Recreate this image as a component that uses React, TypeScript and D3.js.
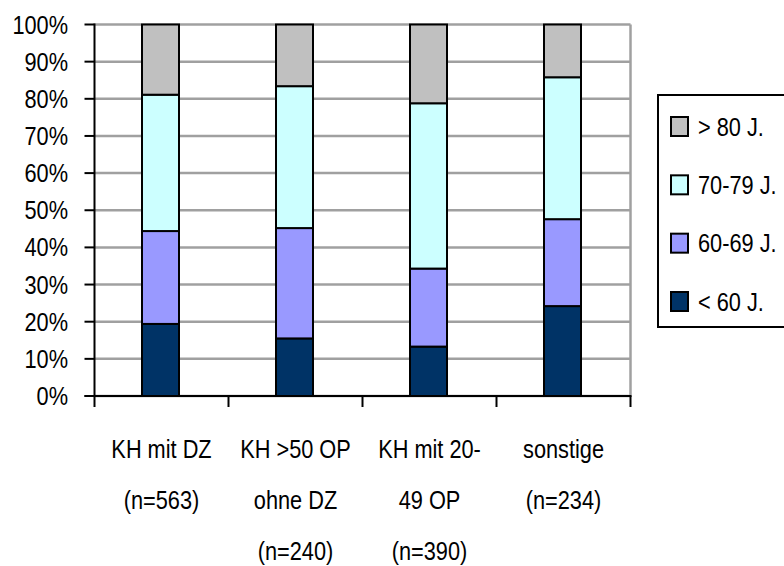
import React from "react";
import * as d3 from "d3";

const categories = ["KH mit DZ", "KH >50 OP", "KH mit 20-", "sonstige"];
const categoryLines = [
  ["KH mit DZ", "(n=563)"],
  ["KH >50 OP", "ohne DZ", "(n=240)"],
  ["KH mit 20-", "49 OP", "(n=390)"],
  ["sonstige", "(n=234)"],
];
const seriesNames = ["< 60 J.", "60-69 J.", "70-79 J.", "> 80 J."];
const under60 = [19.4, 15.5, 13.3, 24.2];
const age6069 = [25.0, 29.7, 21.0, 23.4];
const age7079 = [36.7, 38.2, 44.5, 38.2];
const over80 = [18.9, 16.6, 21.2, 14.2];
const yTicks = [0, 10, 20, 30, 40, 50, 60, 70, 80, 90, 100];
const colors = ["#003366", "#9999FF", "#CCFFFF", "#C0C0C0"];

const W = 784;
const H = 566;
const left = 94.5;
const right = 630.5;
const top = 24.5;
const bottom = 396;
const FONT = "'Liberation Sans', Arial, sans-serif";
const SX = 0.87;
const FS = 25;

function T({ x, y, anchor, children }: { x: number; y: number; anchor: string; children: any }) {
  return (
    <text
      transform={`translate(${x},${y}) scale(${SX},1)`}
      textAnchor={anchor}
      fontFamily={FONT}
      fontSize={FS}
      fill="#000"
    >
      {children}
    </text>
  );
}

export default function App() {
  const x = d3.scaleBand<string>().domain(categories).range([left, right]).paddingInner(0).paddingOuter(0);
  const y = d3.scaleLinear().domain([0, 100]).range([bottom, top]);
  const series = [under60, age6069, age7079, over80];
  const table = categories.map((c, i) => {
    const o: any = { cat: c };
    seriesNames.forEach((s, j) => (o[s] = series[j][i]));
    return o;
  });
  const stacked = d3.stack<any>().keys(seriesNames)(table);
  const barW = 37;
  const bandW = x.bandwidth();
  const tickXs = d3.range(categories.length + 1).map((i) => left + i * bandW);

  const legendRows = [3, 2, 1, 0];
  const legendY = d3.scaleLinear().domain([0, 3]).range([126.5, 301.5]);

  return (
    <svg width={W} height={H} style={{ position: "absolute", left: 0, top: 0, background: "#fff" }}>
      <rect x={0} y={0} width={W} height={H} fill="#fff" />
      {/* grid */}
      {yTicks.map((t) => (
        <line key={t} x1={left} x2={right} y1={y(t)} y2={y(t)} stroke="#A0A0A0" strokeWidth={2.5} />
      ))}
      <line x1={right} x2={right} y1={top} y2={bottom} stroke="#A0A0A0" strokeWidth={2.5} />
      {/* bars */}
      {stacked.map((layer, j) => (
        <g key={layer.key}>
          {layer.map((d, i) => {
            const cx = x(categories[i])! + bandW / 2 - 1;
            return (
              <rect
                key={i}
                x={cx - barW / 2}
                y={y(d[1])}
                width={barW}
                height={y(d[0]) - y(d[1])}
                fill={colors[j]}
                stroke="#000"
                strokeWidth={2}
              />
            );
          })}
        </g>
      ))}
      {/* axes */}
      <line x1={left} x2={left} y1={top - 1} y2={bottom + 1} stroke="#000" strokeWidth={2} />
      {yTicks.map((t) => (
        <line key={t} x1={left - 10} x2={left} y1={y(t)} y2={y(t)} stroke="#000" strokeWidth={2} />
      ))}
      <line x1={left - 10} x2={right + 1} y1={bottom} y2={bottom} stroke="#000" strokeWidth={2} />
      {tickXs.map((tx, i) => (
        <line key={i} x1={tx} x2={tx} y1={bottom} y2={bottom + 11} stroke="#000" strokeWidth={2} />
      ))}
      {yTicks.map((t) => (
        <T key={t} x={68} y={y(t) + 9} anchor="end">
          {t}%
        </T>
      ))}
      {categoryLines.map((lines, i) => (
        <g key={i}>
          {lines.map((l, k) => (
            <T key={k} x={x(categories[i])! + bandW / 2} y={458 + k * 51} anchor="middle">
              {l}
            </T>
          ))}
        </g>
      ))}
      {/* legend */}
      <rect x={658} y={95} width={140} height={232} fill="#fff" stroke="#000" strokeWidth={2} />
      {legendRows.map((si, r) => {
        const cy = legendY(r);
        return (
          <g key={si}>
            <rect x={671} y={cy - 9.5} width={17} height={19} fill={colors[si]} stroke="#000" strokeWidth={2} />
            <T x={698} y={cy + 9} anchor="start">
              {seriesNames[si]}
            </T>
          </g>
        );
      })}
    </svg>
  );
}
